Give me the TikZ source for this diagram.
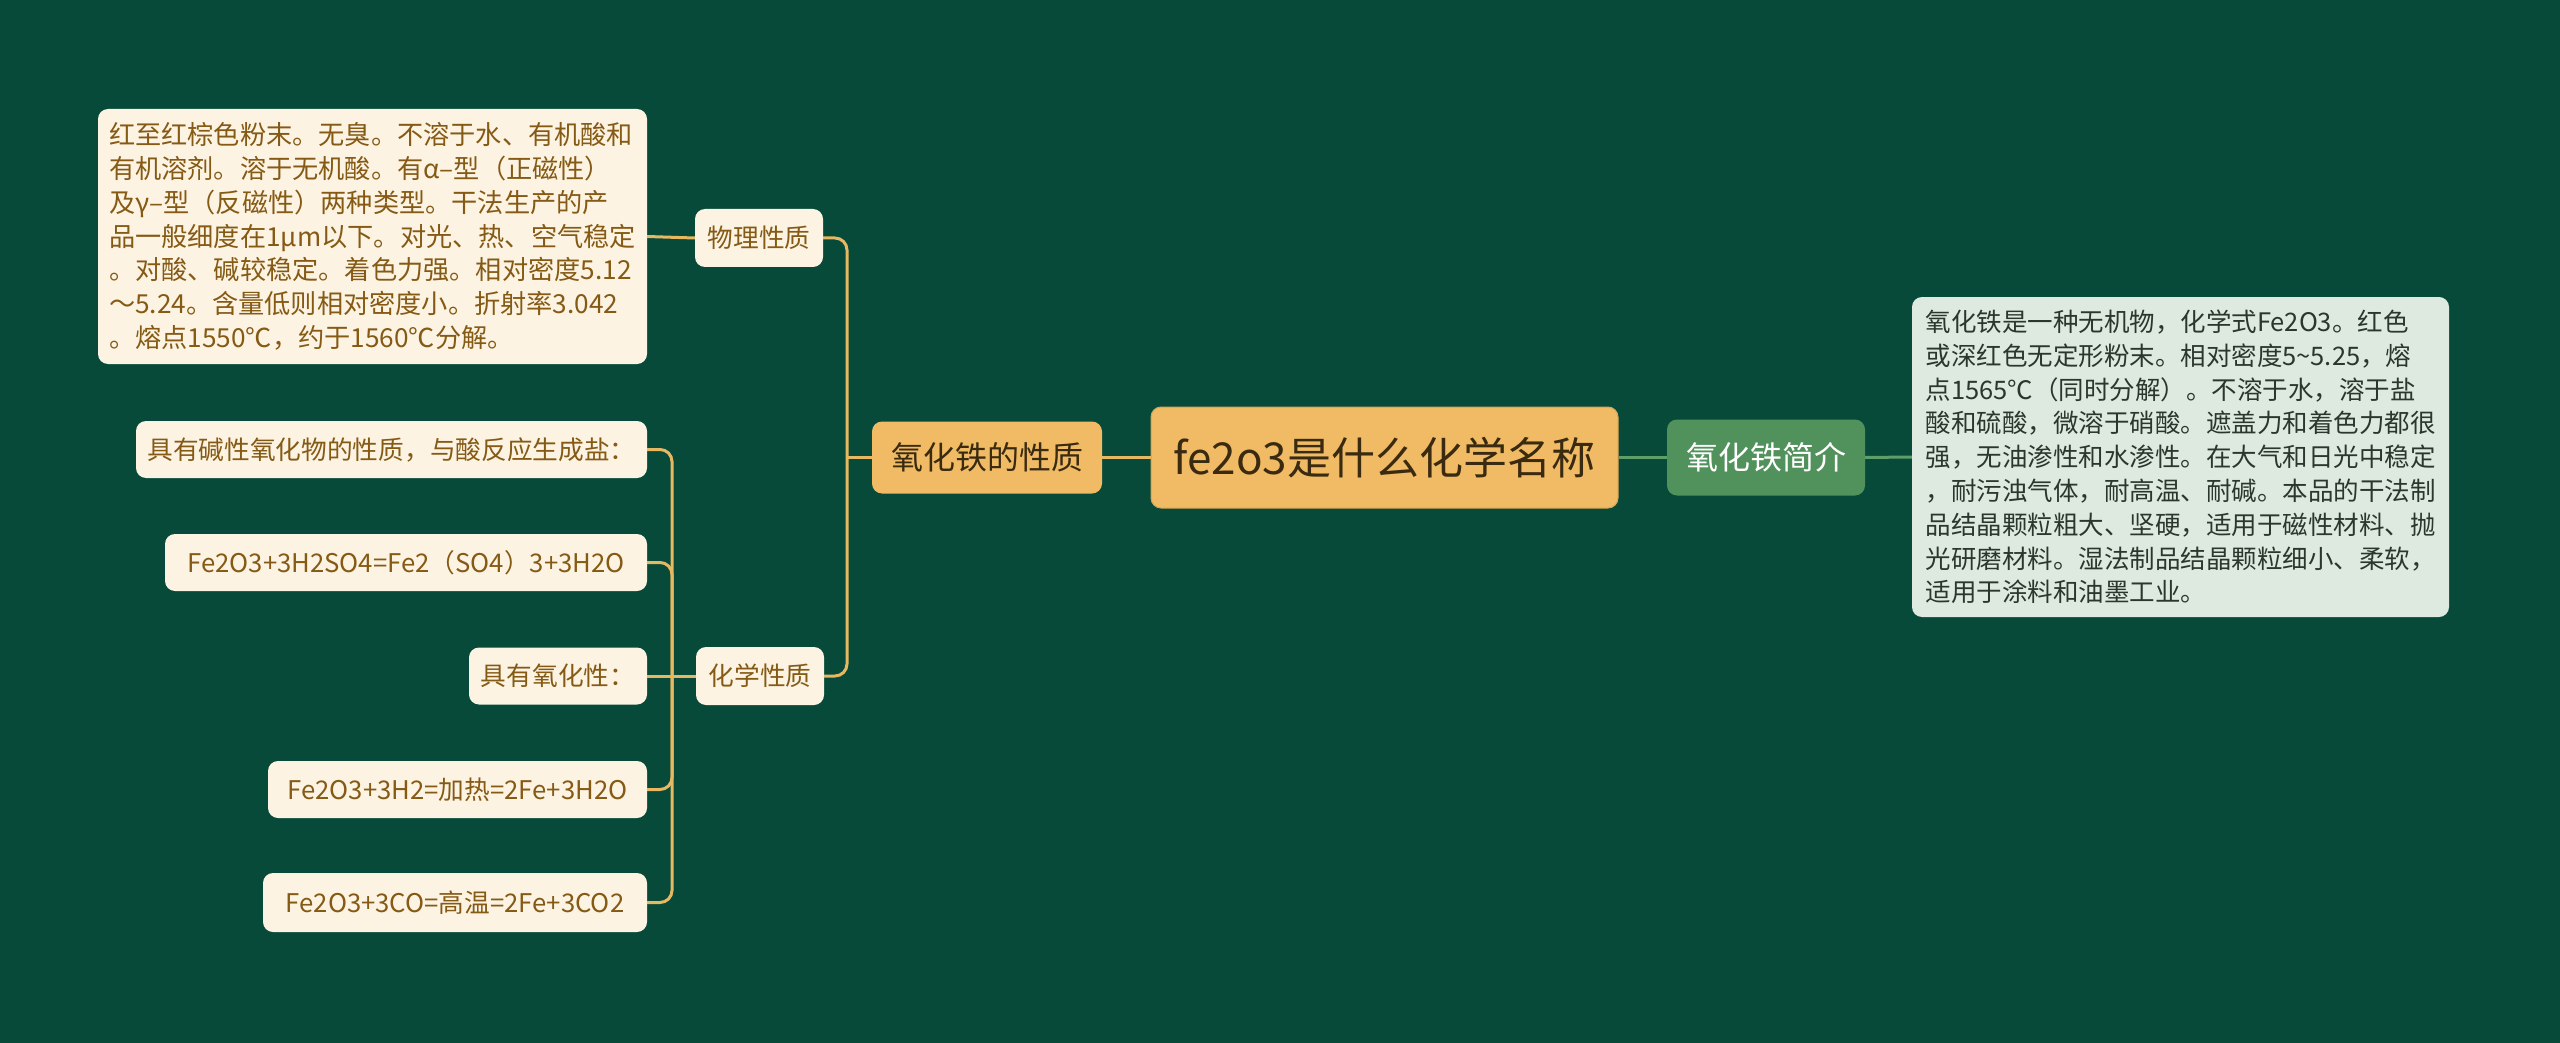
\documentclass[tikz,border=0pt]{standalone}
\usepackage{fontspec}
\setmainfont{Noto Sans CJK SC}
\definecolor{bgc}{HTML}{074A3A}
\definecolor{gold}{HTML}{E6B862}
\definecolor{rootfill}{HTML}{F0BB64}
\definecolor{rootline}{HTML}{D9A24E}
\definecolor{darktext}{HTML}{3A2A10}
\definecolor{leaffill}{HTML}{FDF3E3}
\definecolor{leaftext}{HTML}{855A14}
\definecolor{greenfill}{HTML}{51915B}
\definecolor{greenline}{HTML}{5E9E68}
\definecolor{notefill}{HTML}{DEE9DF}
\definecolor{notetext}{HTML}{2B372C}
\begin{document}
\begin{tikzpicture}[x=1pt,y=-1pt,
  box/.style={rounded corners=10pt, inner sep=0pt, align=center},
  leaf/.style={box, fill=leaffill, text=leaftext, font=\fontsize{25.7}{30}\selectfont},
  para/.style={box, align=left, font=\fontsize{25.5}{33.8}\selectfont},
  goldline/.style={draw=gold, line width=3pt, rounded corners=12pt},
  greenconn/.style={draw=greenline, line width=3pt}]
\fill[bgc] (0,0) rectangle (2560,1043);
\useasboundingbox (0,0) rectangle (2560,1043);

% nodes
\node[box, fill=rootfill, draw=rootline, line width=1pt, text=darktext,
  minimum width=467pt, minimum height=101pt,
  font=\fontsize{44}{50}\selectfont] (root) at (1384.5,457.5) {fe2o3是什么化学名称};
\node[box, fill=rootfill, text=darktext, minimum width=230pt, minimum height=72pt,
  font=\fontsize{32}{38}\selectfont] (prop) at (987,457.5) {氧化铁的性质};
\node[box, fill=greenfill, text=white, minimum width=198pt, minimum height=76pt,
  font=\fontsize{32}{38}\selectfont] (intro) at (1766,457.5) {氧化铁简介};
\node[para, fill=notefill, text=notetext, minimum width=537pt, minimum height=320pt]
  (note) at (2180.5,457) {氧化铁是一种无机物，化学式Fe2O3。红色\\
或深红色无定形粉末。相对密度5\textasciitilde5.25，熔\\
点1565℃（同时分解）。不溶于水，溶于盐\\
酸和硫酸，微溶于硝酸。遮盖力和着色力都很\\
强，无油渗性和水渗性。在大气和日光中稳定\\
，耐污浊气体，耐高温、耐碱。本品的干法制\\
品结晶颗粒粗大、坚硬，适用于磁性材料、抛\\
光研磨材料。湿法制品结晶颗粒细小、柔软，\\
适用于涂料和油墨工业。};

\node[leaf, minimum width=128pt, minimum height=58pt] (phys) at (759,238) {物理性质};
\node[leaf, minimum width=128pt, minimum height=58pt] (chem) at (760,676) {化学性质};

\node[para, fill=leaffill, text=leaftext, minimum width=549pt, minimum height=255pt,
  font=\fontsize{26.2}{33.8}\selectfont]
  (ptext) at (372.5,236.5) {红至红棕色粉末。无臭。不溶于水、有机酸和\\
有机溶剂。溶于无机酸。有α–型（正磁性）\\
及γ–型（反磁性）两种类型。干法生产的产\\
品一般细度在1μm以下。对光、热、空气稳定\\
。对酸、碱较稳定。着色力强。相对密度5.12\\
～5.24。含量低则相对密度小。折射率3.042\\
。熔点1550℃，约于1560℃分解。};

\node[leaf, minimum width=511pt, minimum height=57pt] (c1) at (391.5,449.5) {具有碱性氧化物的性质，与酸反应生成盐：};
\node[leaf, minimum width=482pt, minimum height=57pt] (c2) at (406,562.5) {Fe2O3+3H2SO4=Fe2（SO4）3+3H2O};
\node[leaf, minimum width=178pt, minimum height=57pt] (c3) at (558,676) {具有氧化性：};
\node[leaf, minimum width=379pt, minimum height=57pt] (c4) at (457.5,789.5) {Fe2O3+3H2=加热=2Fe+3H2O};
\node[leaf, minimum width=384pt, minimum height=59pt] (c5) at (455,902.5) {Fe2O3+3CO=高温=2Fe+3CO2};

% junction coordinates
\coordinate (jprop) at (847,457.5);
\coordinate (jchem) at (672,676);

% connectors
\draw[greenconn] (root.east) -- (intro.west);
\draw[greenconn] (intro.east) -- (note.west);
\draw[goldline] (root.west) -- (prop.east);
\draw[goldline] (prop.west) -- (jprop);
\draw[goldline] (phys.east) -| (jprop) |- (chem.east);
\draw[goldline] (phys.west) -- (ptext.east);
\draw[goldline] (chem.west) -- (jchem);
\draw[goldline] (c1.east) -| (jchem) |- (c5.east);
\draw[goldline] (c2.east) -| (jchem);
\draw[goldline] (c3.east) -- (jchem);
\draw[goldline] (c4.east) -| (jchem);
\end{tikzpicture}
\end{document}
